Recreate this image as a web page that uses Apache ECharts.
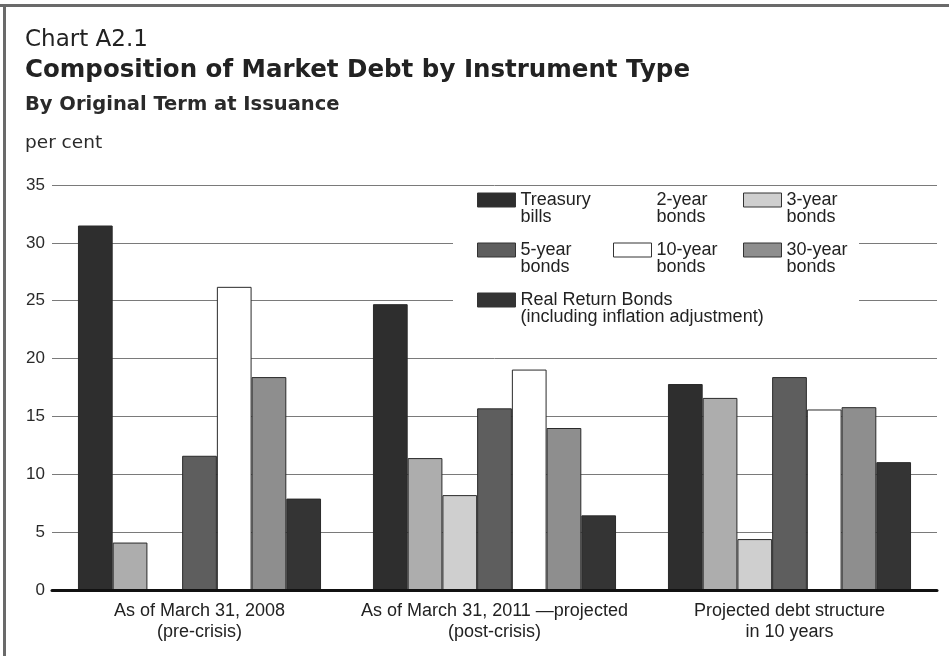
<!DOCTYPE html>
<html>
<head>
<meta charset="utf-8">
<script src="https://cdn.jsdelivr.net/npm/echarts@6/dist/echarts.min.js"></script>
<style>
html,body{margin:0;padding:0;background:#fff;}
#chart{width:949px;height:656px;}
</style>
</head>
<body>
<div id="chart"></div>
<script>
const categories = [
  "As of March 31, 2008\n(pre-crisis)",
  "As of March 31, 2011 \u2014projected\n(post-crisis)",
  "Projected debt structure\nin 10 years"
];
const seriesNames = ["Treasury bills","2-year bonds","3-year bonds","5-year bonds","10-year bonds","30-year bonds","Real Return Bonds"];
const treasuryBills = [31.5, 24.7, 17.8];
const twoYearBonds = [4.1, 11.4, 16.6];
const threeYearBonds = [0, 8.2, 4.4];
const fiveYearBonds = [11.6, 15.7, 18.4];
const tenYearBonds = [26.2, 19.05, 15.6];
const thirtyYearBonds = [18.4, 14.0, 15.8];
const realReturnBonds = [7.9, 6.45, 11.05];
const legendLabels = {
  "Treasury bills": "\nTreasury\nbills",
  "2-year bonds": "\n2-year\nbonds",
  "3-year bonds": "\n3-year\nbonds",
  "5-year bonds": "\n5-year\nbonds",
  "10-year bonds": "\n10-year\nbonds",
  "30-year bonds": "\n30-year\nbonds",
  "Real Return Bonds": "\nReal Return Bonds\n(including inflation adjustment)"
};
const values = [treasuryBills, twoYearBonds, threeYearBonds, fiveYearBonds, tenYearBonds, thirtyYearBonds, realReturnBonds];
const colors = ["#2e2e2e","#adadad","#cfcfcf","#5e5e5e","#ffffff","#8e8e8e","#343434"];

const FONT = "Liberation Sans";
const TFONT = "DejaVu Sans";
const chart = echarts.init(document.getElementById('chart'), null, {renderer:'canvas'});

const legendBase = {
  orient: 'vertical',
  padding: 0,
  icon: 'rect',
  itemWidth: 38,
  itemHeight: 14,
  itemGap: -2,
  selectedMode: false,
  z: 5,
  formatter: n => legendLabels[n],
  textStyle: {fontFamily: FONT, fontSize: 18, lineHeight: 17, color: '#222'},
  itemStyle: {borderColor: '#333', borderWidth: 1}
};

const option = {
  backgroundColor: '#fff',
  animation: false,
  color: colors,
  title: [
    {text: 'Chart A2.1', left: 25, top: 29, padding: 0, textStyle: {fontFamily: TFONT, fontSize: 23, fontWeight: 'normal', color: '#222'}},
    {text: 'Composition of Market Debt by Instrument Type', left: 25, top: 58, padding: 0, textStyle: {fontFamily: TFONT, fontSize: 24.5, fontWeight: 'bold', color: '#222'}},
    {text: 'By Original Term at Issuance', left: 25, top: 95, padding: 0, textStyle: {fontFamily: TFONT, fontSize: 19.5, fontWeight: 'bold', color: '#2a2a2a'}},
    {text: 'per cent', left: 25, top: 134, padding: 0, textStyle: {fontFamily: TFONT, fontSize: 18.5, fontWeight: 'normal', color: '#2a2a2a'}}
  ],
  graphic: [
    {type: 'rect', z: 1, shape: {x: 453, y: 187, width: 406, height: 152}, style: {fill: '#fff'}},
    {type: 'rect', z: 10, shape: {x: 0, y: 4, width: 949, height: 3}, style: {fill: '#6a6a6a'}},
    {type: 'rect', z: 10, shape: {x: 3, y: 4, width: 3, height: 652}, style: {fill: '#6a6a6a'}}
  ],
  legend: [
    Object.assign({}, legendBase, {left: 477, top: 174, data: ["Treasury bills","5-year bonds","Real Return Bonds"]}),
    Object.assign({}, legendBase, {left: 613, top: 174, data: [
      {name: "2-year bonds", itemStyle: {color: 'rgba(0,0,0,0)', borderWidth: 0, borderColor: 'rgba(0,0,0,0)'}},
      "10-year bonds"]}),
    Object.assign({}, legendBase, {left: 743, top: 174, data: ["3-year bonds","30-year bonds"]})
  ],
  grid: {left: 52, right: 12, top: 185, bottom: 66, containLabel: false, outerBoundsMode: 'none'},
  xAxis: {
    type: 'category',
    data: categories,
    z: 4,
    axisLine: {lineStyle: {color: '#111', width: 3}},
    axisTick: {show: false},
    axisLabel: {interval: 0, fontFamily: FONT, fontSize: 18, lineHeight: 21, color: '#222', margin: 11}
  },
  yAxis: {
    type: 'value',
    min: 0, max: 35, interval: 5,
    axisLine: {show: false},
    axisTick: {show: false},
    axisLabel: {fontFamily: FONT, fontSize: 17, color: '#2a2a2a', margin: 7},
    splitLine: {lineStyle: {color: '#7a7a7a', width: 1}}
  },
  series: seriesNames.map((name, i) => ({
    name: name,
    type: 'bar',
    data: values[i],
    barGap: '0%',
    barCategoryGap: '17.6%',
    itemStyle: {color: colors[i], borderColor: '#2a2a2a', borderWidth: 1}
  }))
};
chart.setOption(option);
</script>
</body>
</html>
